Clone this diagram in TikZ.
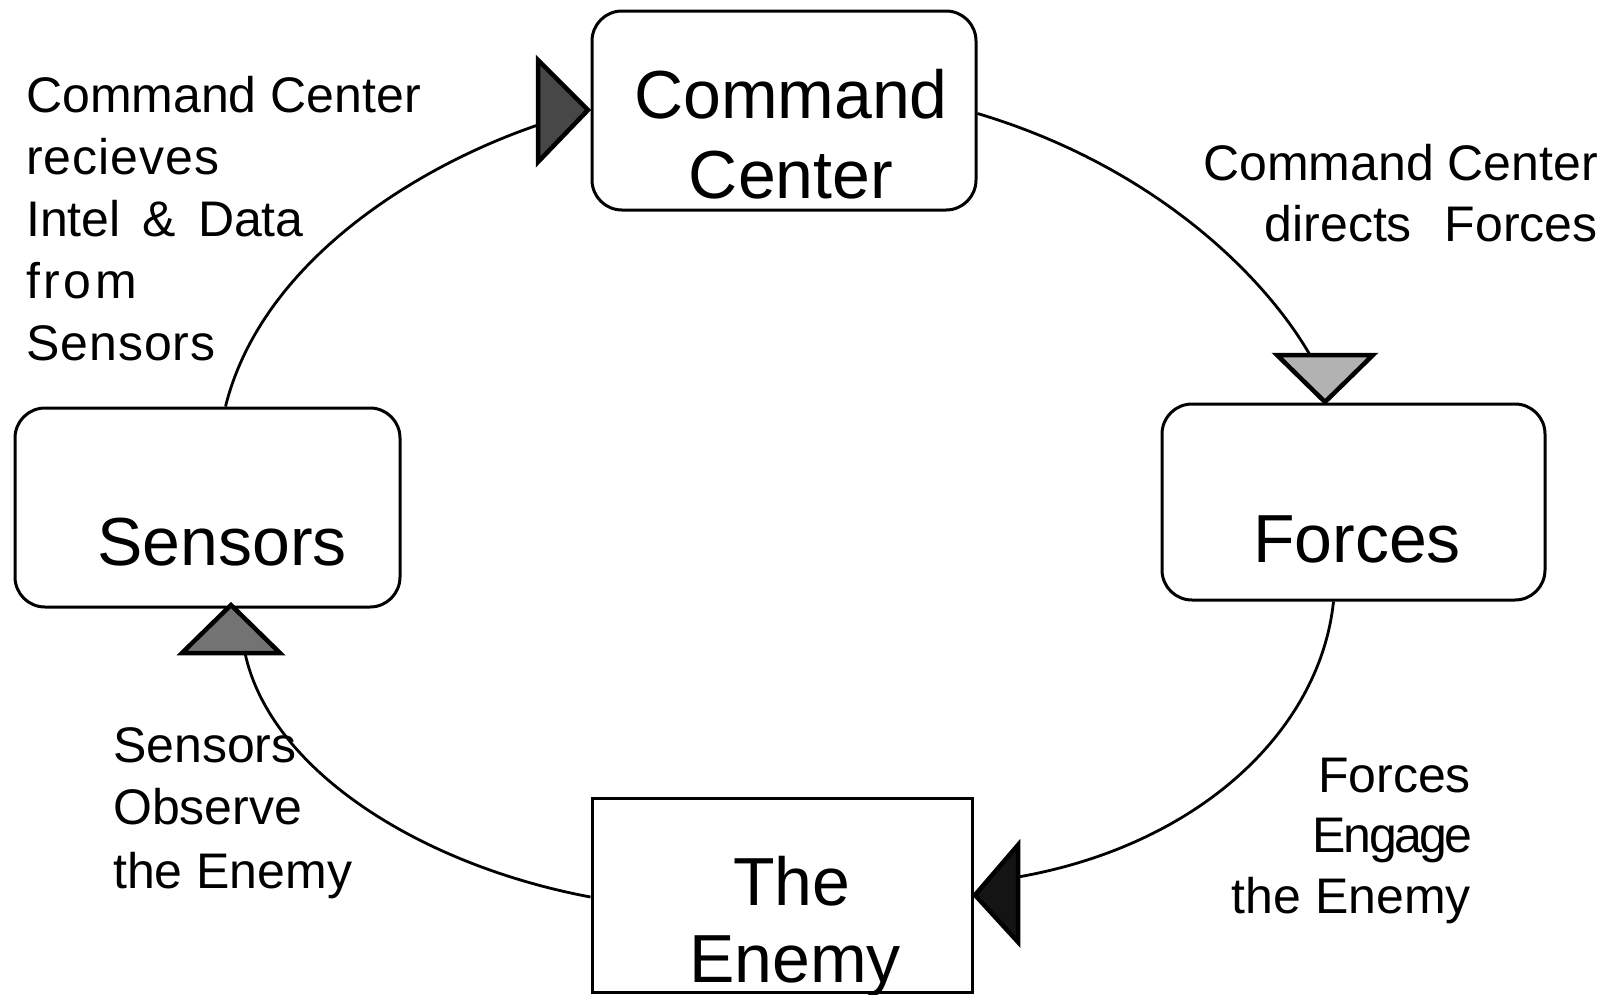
\documentclass[tikz,border=0pt]{standalone}
\usepackage{fontspec}
\setmainfont{Liberation Sans}
\begin{document}
\begin{tikzpicture}[x=1pt,y=-1pt,
  box/.style={draw=black, line width=3pt, rounded corners=30pt, inner sep=0pt},
  sqbox/.style={draw=black, line width=3pt, inner sep=0pt},
  conn/.style={line width=2.8pt},
  tri/.style={draw=black, line width=4.5pt, line join=miter},
  big/.style={font=\fontsize{68}{68}\selectfont, inner sep=0pt, anchor=base},
  lblL/.style={font=\fontsize{50}{60}\selectfont, inner sep=0pt, anchor=base west},
  lblR/.style={font=\fontsize{50}{60}\selectfont, inner sep=0pt, anchor=base east}
]
\useasboundingbox (0,0) rectangle (1615,994);

% boxes
\node[box, minimum width=384pt, minimum height=199pt] (cc) at (784,110.5) {};
\node[box, minimum width=385pt, minimum height=199pt] (sens) at (207.5,507.5) {};
\node[box, minimum width=383pt, minimum height=196pt] (fo) at (1353.5,502) {};
\node[sqbox, minimum width=380pt, minimum height=194pt] (en) at (782,895) {};

% box texts
\node[big] (ccA) at (791,118) {Command};
\node[big] (ccB) at (791,198) {Center};
\node[big] (sensT) at (222,565) {Sensors};
\node[big] (foT) at (1357,562) {Forces};
\node[big] (enA) at (792,905) {The};
\node[big] (enB) at (795,982) {Enemy};

% arrowheads
\filldraw[tri, fill=black!72] (538,60) -- (538,162) -- (588,110) -- cycle;
\filldraw[tri, fill=black!30] (1277,355) -- (1373,355) -- (1325,402) -- cycle;
\filldraw[tri, fill=black!55] (182,653) -- (280,653) -- (231,605) -- cycle;
\filldraw[tri, fill=black!92] (1018,845) -- (1018,942) -- (975,895) -- cycle;

\coordinate (t1in) at (538,125);
\coordinate (t2in) at (1310,355);
\coordinate (t3in) at (245,653);
\coordinate (t4in) at (1018,877);

% connectors
\draw[conn] ([xshift=18pt]sens.north) .. controls (262,260) and (420,165) .. (t1in);
\draw[conn] ([yshift=-3pt]cc.east) .. controls (1150,165) and (1262,272) .. (t2in);
\draw[conn] ([xshift=-20pt]fo.south) .. controls (1320,730) and (1200,845) .. (t4in);
\draw[conn] ([yshift=-2pt]en.west) .. controls (420,865) and (270,770) .. (t3in);

% labels
\node[lblL] (a1) at (26,112) {Command Center};
\node[lblL] (a2) at (26,174) {\addfontfeature{LetterSpace=2}recieves};
\node[lblL] (a3) at (26,236) {Intel\hspace{22pt}\&\hspace{22pt}Data};
\node[lblL] (a4) at (26,298) {\addfontfeature{LetterSpace=7}from};
\node[lblL] (a5) at (26,360) {\addfontfeature{LetterSpace=2}Sensors};

\node[lblR] (b1) at (1598,180) {Command Center};
\node[lblR] (b2) at (1598,241) {directs\hspace{33pt}Forces};

\node[lblR] (c1) at (1471,792) {Forces};
\node[lblR] (c2) at (1473,852) {\addfontfeature{LetterSpace=-5}Engage};
\node[lblR] (c3) at (1471,913) {the Enemy};

\node[lblL] (d1) at (113,762) {Sensors};
\node[lblL] (d2) at (113,824) {Observe};
\node[lblL] (d3) at (113,888) {the Enemy};
\end{tikzpicture}
\end{document}
